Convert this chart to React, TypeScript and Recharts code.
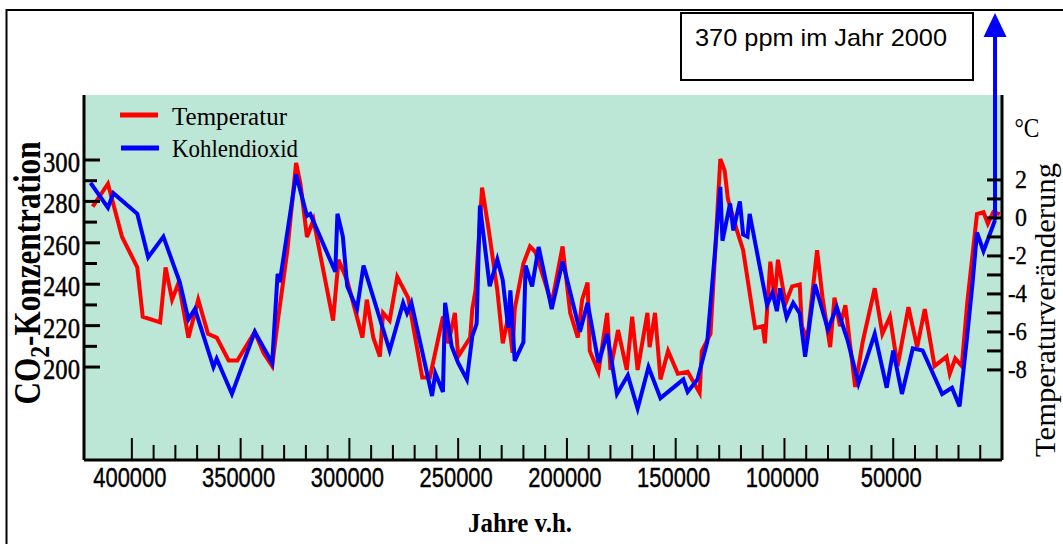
import React from 'react';
import { LineChart, Line, XAxis, YAxis, CartesianGrid, Legend, ReferenceLine } from 'recharts';

// ---------- data (years before present) ----------
const tempYears = [
  418000, 411000, 404500, 397500, 395000, 387000, 384500, 381500, 378500, 374000,
  369500, 365000, 361000, 355500, 351500, 343500, 339500, 335500, 333000, 328500,
  324500, 322500, 319500, 316500, 307500, 305000, 301000, 294000, 292000, 289000,
  286000, 284500, 281500, 278000, 273000, 266500, 263000, 257000, 254500, 251500,
  250000, 244500, 243500, 242000, 239000, 236000, 232000, 229500, 227000, 225000,
  224000, 220000, 217000, 214500, 207000, 202000, 198500, 195000, 193000, 190500,
  189500, 185500, 181500, 180000, 176500, 172500, 170000, 167500, 163000, 162000,
  159500, 157000, 153500, 149000, 144500, 139000, 138000, 134000, 132000, 129500,
  127500, 126000, 122000, 119000, 113500, 110000, 109000, 106500, 104500, 103000,
  99500, 96500, 93000, 92000, 89500, 85000, 82500, 79000, 77000, 74500,
  72000, 67500, 64000, 58500, 55000, 51500, 48000, 43000, 39000, 35500,
  31000, 25500, 24000, 21500, 18500, 16000, 11500, 8500, 6500, 4000, 1000,
];
const tempValues = [
  0.6, 1.8, -1.0, -2.6, -5.2, -5.5, -2.6, -4.3, -3.4, -6.3,
  -4.3, -6.1, -6.3, -7.5, -7.5, -6.0, -7.1, -7.8, -5.5, -1.7,
  2.9, 1.8, -1.0, -0.1, -5.4, -2.2, -3.3, -6.3, -4.3, -6.3,
  -7.3, -5.0, -5.4, -3.1, -4.2, -8.4, -8.4, -5.2, -6.6, -5.0,
  -7.3, -6.3, -4.8, -3.8, 1.6, -0.6, -3.8, -6.6, -5.2, -7.1,
  -4.8, -2.4, -1.5, -1.8, -4.5, -1.5, -5.0, -6.3, -4.3, -3.4,
  -7.0, -8.1, -5.0, -8.0, -5.9, -8.0, -5.2, -8.0, -5.0, -6.8,
  -5.0, -8.5, -7.0, -8.2, -8.1, -9.2, -7.0, -6.1, -2.1, 3.1,
  2.5, 1.0, -0.6, -1.7, -5.8, -5.7, -6.6, -2.3, -4.3, -2.2,
  -4.5, -3.6, -3.5, -5.7, -6.4, -1.7, -4.2, -6.8, -4.2, -5.7,
  -4.6, -8.9, -6.5, -3.7, -6.1, -5.2, -7.8, -4.7, -6.8, -4.8,
  -7.8, -7.3, -8.2, -7.4, -7.8, -4.5, 0.2, 0.3, -0.3, 0.3, 0.2,
];

const co2Years = [
  419000, 411000, 408500, 397500, 392500, 385500, 378000, 374000, 371000, 362500,
  361000, 354000, 343500, 335500, 333000, 332000, 324500, 319500, 318000, 306500,
  305500, 303000, 301000, 296500, 293500, 281500, 275300, 273500, 271500, 262000,
  260500, 257000, 256000, 253000, 250000, 246000, 243500, 241500, 240000, 235500,
  232000, 229500, 227000, 226000, 224000, 220000, 219000, 216000, 213000, 207000,
  202000, 194000, 190500, 185500, 181500, 177000, 172000, 167500, 162500, 157000,
  146500, 144500, 140000, 135500, 132000, 129500, 128500, 125000, 123500, 120500,
  119000, 117000, 116000, 108000, 105500, 103500, 102000, 99000, 96000, 93000,
  90500, 86000, 80000, 76000, 71000, 66000, 58500, 53000, 50000, 46000,
  41000, 36500, 27500, 23000, 19500, 16000, 13500, 11500, 8500, 3200,
];
const co2Values = [
  289, 277, 284, 274, 253, 263, 241, 223, 228, 200,
  204, 187, 217, 202, 245, 241, 293, 273, 274, 246,
  274, 263, 239, 228, 249, 208, 231, 226, 231, 186,
  197, 188, 231, 210, 202, 194, 215, 221, 278, 239,
  252, 242, 219, 237, 203, 212, 249, 239, 258, 228,
  251, 217, 231, 202, 216, 187, 196, 180, 200, 185,
  194, 188, 194, 212, 255, 287, 261, 279, 266, 280,
  264, 263, 274, 230, 236, 227, 238, 224, 231, 226,
  205, 240, 218, 229, 213, 192, 216, 190, 208, 187,
  209, 208, 187, 190, 181, 215, 241, 265, 256, 271,
];

// today's value (year 2000) shown by the arrow
const presentYear = 3200;
const presentCo2 = 371;

// ---------- ticks ----------
const xTicks = [
  0, 10000, 20000, 30000, 40000, 50000, 60000, 70000, 80000, 90000, 100000,
  110000, 120000, 130000, 140000, 150000, 160000, 170000, 180000, 190000, 200000,
  210000, 220000, 230000, 240000, 250000, 260000, 270000, 280000, 290000, 300000,
  310000, 320000, 330000, 340000, 350000, 360000, 370000, 380000, 390000, 400000,
];
const xTickLabels = [400000, 350000, 300000, 250000, 200000, 150000, 100000, 50000];
const co2Ticks = [200, 210, 220, 230, 240, 250, 260, 270, 280, 290, 300];
const co2TickLabels = [200, 220, 240, 260, 280, 300];
const tempTicks = [-8, -7, -6, -5, -4, -3, -2, -1, 0, 1, 2];
const tempTickLabels = [-8, -6, -4, -2, 0, 2];
const legendOrder = ['Temperatur', 'Kohlendioxid'];

const tempData = tempYears.map((yr, i) => ({ yr, t: tempValues[i] }));
const co2Data = co2Years.map((yr, i) => ({ yr, v: co2Values[i] }));

const SERIF = '"Liberation Serif", "Times New Roman", serif';
const SANS = '"Liberation Sans", Arial, sans-serif';

const XTick = (props: any) => {
  const { x, y, payload } = props;
  const v = payload.value as number;
  const major = v % 50000 === 0;
  const labelled = xTickLabels.includes(v);
  const text = String(v);
  return (
    <g>
      <line x1={x} y1={y} x2={x} y2={y - (major ? 22 : 15)} stroke="#000" strokeWidth={2} />
      {labelled && (
        <text
          x={x - 2}
          y={y + 27}
          textAnchor="middle"
          fontFamily={SANS}
          fontSize={27}
          fill="#000"
          stroke="#000"
          strokeWidth={0.4}
          textLength={text.length * 12.2}
          lengthAdjust="spacingAndGlyphs"
        >
          {text}
        </text>
      )}
    </g>
  );
};

const Co2Tick = (props: any) => {
  const { x, y, payload } = props;
  const v = payload.value as number;
  const labelled = co2TickLabels.includes(v);
  return (
    <g>
      <line x1={x} y1={y} x2={x + (labelled ? 16 : 13)} y2={y} stroke="#000" strokeWidth={3} />
      {labelled && (
        <text
          x={x - 4}
          y={y + 12}
          textAnchor="end"
          fontFamily={SERIF}
          fontSize={30}
          fill="#000"
          stroke="#000"
          strokeWidth={0.5}
          textLength={37}
          lengthAdjust="spacingAndGlyphs"
        >
          {v}
        </text>
      )}
    </g>
  );
};

const TempTick = (props: any) => {
  const { x, y, payload } = props;
  const v = payload.value as number;
  const labelled = tempTickLabels.includes(v);
  const text = String(v);
  return (
    <g>
      <line x1={x} y1={y} x2={x - 15} y2={y} stroke="#000" strokeWidth={3} />
      {labelled && (
        <text
          x={x + 25}
          y={y + 8.5}
          textAnchor="end"
          fontFamily={SERIF}
          fontSize={25}
          fill="#000"
          stroke="#000"
          strokeWidth={0.3}
          textLength={text.length === 1 ? 12 : 19}
          lengthAdjust="spacingAndGlyphs"
        >
          {text}
        </text>
      )}
    </g>
  );
};

const Co2Label = () => (
  <text
    transform="translate(40, 273) rotate(-90)"
    textAnchor="middle"
    fontFamily={SERIF}
    fontWeight="bold"
    fontSize={37}
    fill="#000"
    textLength={263}
    lengthAdjust="spacingAndGlyphs"
  >
    CO
    <tspan dy={9} fontSize={28}>2</tspan>
    <tspan dy={-9}>-Konzentration</tspan>
  </text>
);

const TempLabel = () => (
  <g>
    <text
      x={1027}
      y={137}
      textAnchor="middle"
      fontFamily={SERIF}
      fontSize={28}
      fill="#000"
      textLength={25}
      lengthAdjust="spacingAndGlyphs"
    >
      °C
    </text>
    <text
      transform="translate(1055, 310) rotate(-90)"
      textAnchor="middle"
      fontFamily={SERIF}
      fontSize={29}
      fill="#000"
      textLength={294}
      lengthAdjust="spacingAndGlyphs"
    >
      Temperaturveränderung
    </text>
  </g>
);

const XLabel = () => (
  <text
    x={520}
    y={532}
    textAnchor="middle"
    fontFamily={SERIF}
    fontWeight="bold"
    fontSize={28}
    fill="#000"
    textLength={104}
    lengthAdjust="spacingAndGlyphs"
  >
    Jahre v.h.
  </text>
);

const LegendContent = (props: any) => {
  const payload = [...(props.payload || [])].sort(
    (a: any, b: any) => legendOrder.indexOf(a.value) - legendOrder.indexOf(b.value)
  );
  const widths: Record<string, number> = { Temperatur: 115, Kohlendioxid: 126 };
  return (
    <svg width={210} height={70} style={{ display: 'block', overflow: 'visible' }}>
      {payload.map((p: any, i: number) => {
        const cy = 15 + i * 33;
        return (
          <g key={p.value}>
            <line x1={10 + i} y1={cy} x2={48 + i} y2={cy} stroke={p.color} strokeWidth={5} />
            <text
              x={62}
              y={cy + 10 - i}
              fontFamily={SERIF}
              fontSize={25}
              fill="#000"
              textLength={widths[p.value] || 120}
              lengthAdjust="spacingAndGlyphs"
            >
              {p.value}
            </text>
          </g>
        );
      })}
    </svg>
  );
};

const ArrowShape = (props: any) => {
  const { x1, y1, x2, y2 } = props;
  const head = 24;
  return (
    <g>
      <line x1={x1} y1={y1} x2={x2} y2={y2 + head - 2} stroke="#0000ff" strokeWidth={4} />
      <polygon
        points={`${x2},${y2} ${x2 - 11.5},${y2 + head} ${x2 + 11.5},${y2 + head}`}
        fill="#0000ff"
      />
    </g>
  );
};

export default function App() {
  return (
    <div style={{ position: 'absolute', left: 0, top: 0, width: 1063, height: 544, background: '#fff' }}>
      <svg
        width={1063}
        height={544}
        style={{ position: 'absolute', left: 0, top: 0 }}
      >
        <path d="M6.5 544 V10 H1063" fill="none" stroke="#000" strokeWidth={2} />
        <rect x={681} y={13} width={292} height={67} fill="#fff" stroke="#000" strokeWidth={2} />
        <text
          x={695}
          y={46}
          fontFamily={SANS}
          fontSize={24}
          fill="#000"
          textLength={252}
          lengthAdjust="spacingAndGlyphs"
        >
          370 ppm im Jahr 2000
        </text>
      </svg>
      <div style={{ position: 'absolute', left: 0, top: 0 }}>
        <LineChart width={1063} height={544} margin={{ top: 95, right: 0, bottom: 0, left: 0 }}>
          <CartesianGrid yAxisId="co2" fill="#bce6d5" stroke="none" horizontal={false} vertical={false} />
          <XAxis
            type="number"
            dataKey="yr"
            domain={[0, 422000]}
            reversed
            allowDataOverflow
            ticks={xTicks}
            interval={0}
            tick={XTick}
            tickLine={false}
            tickSize={0}
            tickMargin={0}
            height={84}
            axisLine={{ stroke: '#000', strokeWidth: 3 }}
            label={XLabel}
          />
          <XAxis
            xAxisId="top"
            orientation="top"
            type="number"
            domain={[0, 422000]}
            reversed
            allowDataOverflow
            height={0}
            tick={false}
            tickLine={false}
            axisLine={{ stroke: '#000', strokeWidth: 3 }}
          />
          <YAxis
            yAxisId="co2"
            orientation="left"
            type="number"
            width={84}
            domain={[155.1, 331.4]}
            allowDataOverflow
            ticks={co2Ticks}
            interval={0}
            tick={Co2Tick}
            tickLine={false}
            tickSize={0}
            tickMargin={0}
            axisLine={{ stroke: '#000', strokeWidth: 3 }}
            label={Co2Label}
          />
          <YAxis
            yAxisId="temp"
            orientation="right"
            type="number"
            width={61}
            domain={[-12.74, 6.47]}
            allowDataOverflow
            ticks={tempTicks}
            interval={0}
            tick={TempTick}
            tickLine={false}
            tickSize={0}
            tickMargin={0}
            axisLine={{ stroke: '#000', strokeWidth: 3 }}
            label={TempLabel}
          />
          <Legend
            layout="vertical"
            align="center"
            verticalAlign="middle"
            content={LegendContent}
            wrapperStyle={{ left: 110, top: 100, width: 210, height: 70 }}
          />
          <Line
            yAxisId="temp"
            data={tempData}
            dataKey="t"
            name="Temperatur"
            type="linear"
            stroke="#ff0000"
            strokeWidth={4}
            dot={false}
            activeDot={false}
            isAnimationActive={false}
          />
          <Line
            yAxisId="co2"
            data={co2Data}
            dataKey="v"
            name="Kohlendioxid"
            type="linear"
            stroke="#0000ff"
            strokeWidth={4}
            dot={false}
            activeDot={false}
            isAnimationActive={false}
          />
          <ReferenceLine
            yAxisId="co2"
            segment={[
              { x: presentYear, y: co2Values[co2Values.length - 1] },
              { x: presentYear, y: presentCo2 },
            ]}
            ifOverflow="visible"
            stroke="#0000ff"
            strokeWidth={4}
            shape={ArrowShape}
          />
        </LineChart>
      </div>
    </div>
  );
}
